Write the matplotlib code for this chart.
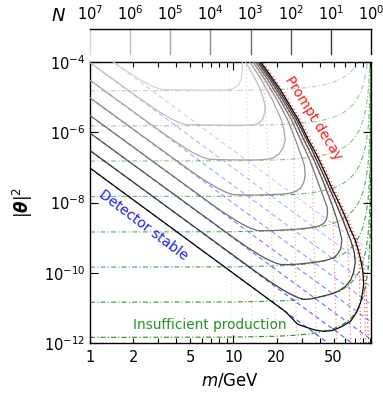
import numpy as np
import matplotlib.pyplot as plt

M_MAX = 91.19  # right end of the mass axis (m_Z)

# expected number of events N = 10**k, one contour per k
n_exp = [0, 1, 2, 3, 4, 5, 6, 7]

# contour paths, as (log10 m/GeV, log10 |theta|^2)
cont_0 = [(0.0, -7.02), (1.364, -11.108), (1.448, -11.464), (1.517, -11.564), (1.573, -11.635),
          (1.629, -11.664), (1.685, -11.650), (1.748, -11.550), (1.818, -11.379), (1.860, -11.123),
          (1.888, -10.838), (1.902, -10.553), (1.909, -10.296), (1.902, -9.926), (1.888, -9.641),
          (1.871, -9.356), (1.850, -9.071), (1.818, -8.786), (1.790, -8.501), (1.759, -8.217),
          (1.727, -7.932), (1.692, -7.647), (1.647, -7.219), (1.598, -6.792), (1.563, -6.507),
          (1.524, -6.222), (1.490, -5.937), (1.455, -5.652), (1.413, -5.368), (1.371, -5.083),
          (1.329, -4.798), (1.280, -4.513), (1.231, -4.228), (1.189, -4.000)]
cont_1 = [(0.0, -6.521), (1.161, -9.983), (1.266, -10.282), (1.343, -10.481), (1.385, -10.581),
          (1.436, -10.681), (1.469, -10.732), (1.497, -10.761), (1.552, -10.738), (1.608, -10.681),
          (1.678, -10.610), (1.734, -10.524), (1.783, -10.382), (1.818, -10.211), (1.839, -9.983),
          (1.850, -9.698), (1.843, -9.413), (1.818, -9.071), (1.790, -8.786), (1.764, -8.501),
          (1.706, -7.932), (1.629, -7.219), (1.548, -6.507), (1.442, -5.652), (1.359, -5.083),
          (1.269, -4.513), (1.179, -4.000)]
cont_2 = [(0.0, -6.023), (0.996, -8.986), (1.101, -9.285), (1.178, -9.484), (1.220, -9.584),
          (1.271, -9.684), (1.303, -9.735), (1.331, -9.764), (1.399, -9.769), (1.469, -9.747),
          (1.538, -9.715), (1.608, -9.675), (1.657, -9.635), (1.699, -9.570), (1.727, -9.470),
          (1.748, -9.328), (1.757, -9.071), (1.741, -8.786), (1.724, -8.501), (1.701, -8.217),
          (1.676, -7.932), (1.622, -7.362), (1.562, -6.792), (1.493, -6.222), (1.427, -5.652),
          (1.345, -5.083), (1.257, -4.513), (1.168, -4.000)]
cont_3 = [(0.0, -5.524), (0.841, -8.026), (0.946, -8.325), (1.023, -8.524), (1.065, -8.624),
          (1.117, -8.724), (1.149, -8.775), (1.177, -8.803), (1.259, -8.801), (1.399, -8.772),
          (1.469, -8.749), (1.538, -8.718), (1.594, -8.672), (1.629, -8.601), (1.650, -8.473),
          (1.657, -8.302), (1.654, -8.131), (1.636, -7.932), (1.585, -7.362), (1.533, -6.792),
          (1.469, -6.222), (1.406, -5.652), (1.328, -5.083), (1.241, -4.513), (1.154, -4.000)]
cont_4 = [(0.0, -5.020), (0.668, -7.000), (0.773, -7.299), (0.850, -7.499), (0.892, -7.598),
          (0.943, -7.698), (0.976, -7.749), (1.004, -7.778), (1.119, -7.789), (1.259, -7.775),
          (1.343, -7.761), (1.399, -7.732), (1.441, -7.675), (1.472, -7.575), (1.492, -7.419),
          (1.501, -7.219), (1.495, -6.935), (1.484, -6.792), (1.434, -6.222), (1.379, -5.652),
          (1.306, -5.083), (1.222, -4.513), (1.137, -4.000)]
cont_5 = [(0.0, -4.519), (0.499, -5.994), (0.604, -6.293), (0.681, -6.493), (0.723, -6.593),
          (0.775, -6.692), (0.807, -6.744), (0.835, -6.772), (1.049, -6.789), (1.175, -6.786),
          (1.231, -6.772), (1.280, -6.721), (1.318, -6.621), (1.346, -6.450), (1.362, -6.222),
          (1.353, -5.937), (1.335, -5.652), (1.273, -5.083), (1.196, -4.513), (1.115, -4.000)]
cont_6 = [(0.0, -4.020), (0.337, -5.009), (0.442, -5.308), (0.519, -5.507), (0.561, -5.607),
          (0.613, -5.707), (0.645, -5.758), (0.673, -5.786), (1.049, -5.803), (1.133, -5.795),
          (1.175, -5.752), (1.203, -5.638), (1.219, -5.453), (1.222, -5.282), (1.212, -5.083),
          (1.190, -4.798), (1.156, -4.513), (1.118, -4.228), (1.084, -4.000)]
cont_7 = [(0.161, -4.000), (0.273, -4.305), (0.350, -4.504), (0.392, -4.604), (0.444, -4.704),
          (0.476, -4.755), (0.504, -4.783), (0.769, -4.803), (0.951, -4.798), (1.000, -4.755),
          (1.035, -4.655), (1.056, -4.484), (1.063, -4.228), (1.063, -4.000)]
contours = [cont_0, cont_1, cont_2, cont_3, cont_4, cont_5, cont_6, cont_7]
cont_grey = [0.02, 0.22, 0.33, 0.44, 0.55, 0.65, 0.74, 0.83]

# insufficient production: produced number 10**7 ... 10**0, log10|theta|^2 at low mass
prod_lt = [-4.82, -5.82, -6.82, -7.83, -8.84, -9.84, -10.84, -11.84]
# how far (in decades) these lines climb towards m_Z
prod_m = [1, 10, 20, 25, 30, 35, 40, 45, 50, 55, 60, 65, 70, 75, 80, 84, 87, 89, 90,
          90.7, 91.0, 91.1, 91.15, 91.18]
prod_rise = [0, 0.008, 0.033, 0.052, 0.077, 0.108, 0.146, 0.193, 0.25, 0.32, 0.408, 0.518,
             0.661, 0.854, 1.134, 1.486, 1.931, 2.479, 3.0, 3.77, 4.59, 5.24, 5.94, 7.14]

# detector stable (long lifetime) lines: log10|theta|^2 at m = 1 GeV and at m = m_Z
stab_lt_left = [-7.02, -6.52, -6.02, -5.52, -5.02, -4.52, -4.02, -3.52]
stab_lt_right = [-12.90, -12.40, -11.90, -11.40, -10.90, -10.40, -9.90, -9.40]

# prompt decay lines, left ones: mass (GeV) at the top and at the bottom of the plot
prompt_left_top = [9.4, 12.3, 16.2]
prompt_left_bot = [9.8, 13.6, 20.0]
# right ones: mass at the bottom, then they run up along the prompt edge of the N = 1
# contour, offset by a few hundredths of a decade in m
prompt_right_bot = [27.6, 38.0, 52.5, 65.8, 77.3, 83.8, 87.9]
prompt_right_shift = [-0.070, -0.049, -0.035, -0.021, -0.0105, 0.0035, 0.014]

W, H = 383, 393
fig = plt.figure(figsize=(W / 100, H / 100), dpi=100)
ax = fig.add_axes([90 / W, 1 - 343 / H, 281 / W, 281 / H])
ax.set_xscale('log')
ax.set_yscale('log')

# green: production
for i, lt in enumerate(prod_lt):
    a = 0.35 + 0.09 * i
    ax.plot(prod_m, 10.0 ** (lt + np.array(prod_rise)), color=(0.1, 0.55, 0.1, a),
            lw=0.8, ls=(0, (4.5, 2, 1, 2)), zorder=1)

# red: prompt decay
red_paths = []
for mt, mb in zip(prompt_left_top, prompt_left_bot):
    red_paths.append(([mt, mb], [1e-4, 1e-12]))
edge = np.array(cont_0[12:])  # upper prompt edge of the N = 1 contour
for mb, s in zip(prompt_right_bot, prompt_right_shift):
    keep = edge[:, 0] + s < np.log10(mb)
    lm = np.concatenate([[np.log10(mb)], edge[keep, 0] + s])
    lt = np.concatenate([[-12.0], edge[keep, 1]])
    red_paths.append((10.0 ** lm, 10.0 ** lt))
n_red = len(red_paths)
for i, (xs, ys) in enumerate(red_paths):
    ax.plot(xs, ys, color=(1, 0.1, 0.1, 0.18 + 0.75 * i / (n_red - 1)),
            lw=0.8, ls=(0, (1, 2.5)), zorder=2)

# blue: detector stable
for i, (l0, l1) in enumerate(zip(stab_lt_left, stab_lt_right)):
    ax.plot([1, M_MAX], [10.0 ** l0, 10.0 ** l1], color=(0.1, 0.1, 1, 0.8 - 0.08 * i),
            lw=0.8, ls=(0, (4, 3)), zorder=3)

# event number contours
for path, g in zip(contours, cont_grey):
    p = np.array(path)
    ax.plot(10.0 ** p[:, 0], 10.0 ** p[:, 1], color=(g, g, g), lw=0.9, zorder=5)

ax.set_xlim(1, M_MAX)
ax.set_ylim(1e-12, 1e-4)
ax.set_xticks([1, 10], labels=['1', '10'])
minor = [2, 3, 4, 5, 6, 7, 8, 9, 20, 30, 40, 50, 60, 70, 80, 90]
ax.set_xticks(minor, labels=[str(v) if v in (2, 5, 20, 50) else '' for v in minor], minor=True)
ax.set_yticks([1e-4, 1e-6, 1e-8, 1e-10, 1e-12],
              labels=[r'$10^{-4}$', r'$10^{-6}$', r'$10^{-8}$', r'$10^{-10}$', r'$10^{-12}$'])
ax.yaxis.set_minor_locator(plt.NullLocator())
ax.tick_params(which='both', direction='in', top=True, right=True, labelsize=10.5, width=0.8)
ax.tick_params(which='major', length=6)
ax.tick_params(which='minor', length=3.5)
ax.tick_params(axis='x', which='both', pad=5)
for s in ax.spines.values():
    s.set_linewidth(1.0)
ax.set_xlabel(r'$m/\mathrm{GeV}$', fontsize=12, labelpad=5)
ax.set_ylabel(r'$|\boldsymbol{\theta}|^2$', fontsize=12, labelpad=6)

ax.text(36.3, 2.54e-6, 'Prompt decay', color='#ff1a1a', fontsize=10, rotation=-58,
        ha='center', va='center', zorder=6)
ax.text(2.35, 2.27e-9, 'Detector stable', color='#1a1aff', fontsize=10, rotation=-37,
        ha='center', va='center', zorder=6)
ax.text(6.9, 3.2e-12, 'Insufficient production', color='#1f941f', fontsize=9.8,
        ha='center', va='center', zorder=6)

# colour bar of the contour levels on top
cax = fig.add_axes([90 / W, 1 - 54 / H, 281 / W, 25 / H])
cax.set_xscale('log')
cax.set_xlim(10.0 ** 7, 1)
cax.set_ylim(0, 1)
for k, g in zip(n_exp, cont_grey):
    cax.axvline(10.0 ** k, color=(g, g, g), lw=1.0, clip_on=False)
cax.set_xticks([10.0 ** k for k in n_exp], labels=[r'$10^{%d}$' % k for k in n_exp])
cax.xaxis.set_minor_locator(plt.NullLocator())
cax.set_yticks([])
cax.xaxis.set_ticks_position('top')
cax.tick_params(axis='x', length=0, pad=4, labelsize=10.5)
for side in ('left', 'right', 'bottom'):
    cax.spines[side].set_visible(False)
cax.spines['top'].set_linewidth(1.0)
fig.text(58 / W, 1 - 16 / H, r'$N$', fontsize=13, ha='center', va='center')

fig.savefig('out.png', dpi=100)
